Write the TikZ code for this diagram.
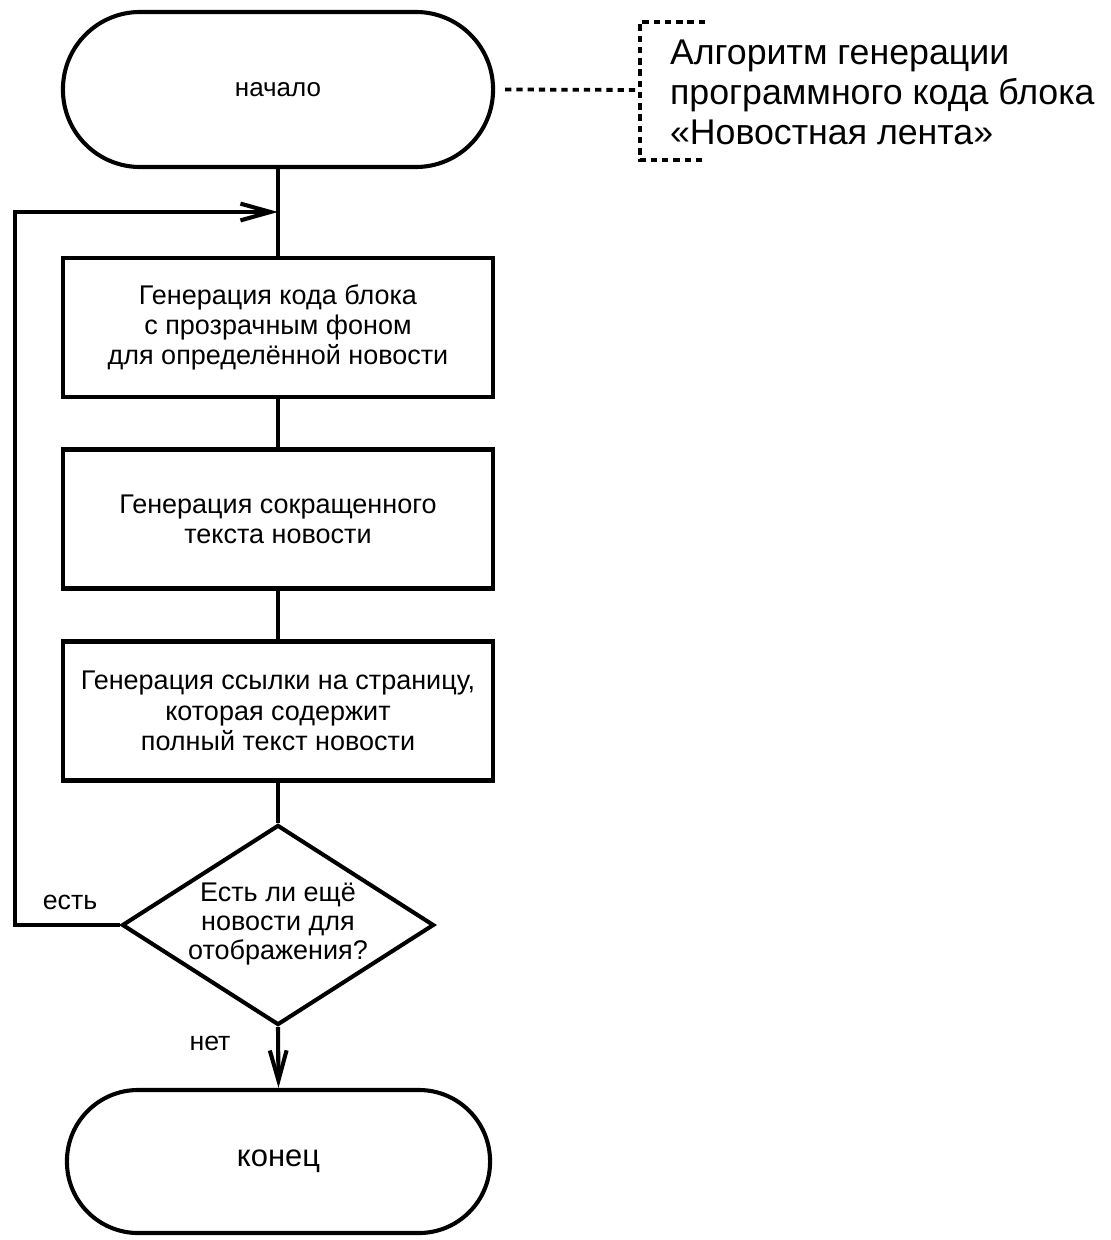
\documentclass[tikz,border=0pt]{standalone}
\usepackage{fontspec}
\setmainfont{Liberation Sans}
\usetikzlibrary{shapes.geometric,arrows.meta}

\begin{document}
\begin{tikzpicture}[x=0.025cm, y=-0.025cm, line width=2.9pt,
    blk/.style={draw, minimum width=10.75cm, minimum height=3.475cm, align=center, font=\fontsize{19.2}{21.5}\selectfont},
    term/.style={draw, rounded corners=1.78cm, align=center},
    lbl/.style={font=\fontsize{19}{22}\selectfont},
    arr/.style={-{Straight Barb[length=0.75cm,width=0.42cm,line width=2.9pt]}},
    dots/.style={dash pattern=on 4.5pt off 3.5pt}]
          \useasboundingbox (0,0) rectangle (1110,1240);
          \node[term, minimum width=10.75cm, minimum height=3.875cm, rounded corners=1.93cm] (start) at (278,89.5) {\fontsize{18.5}{22}\selectfont начало};
          \node[blk] (gen) at (278,327.5) {Генерация кода блока \\ с прозрачным фоном \\ для определённой новости};
          \node[blk] (short) at (278,519) {Генерация сокращенного \\ текста новости};
          \node[blk] (link) at (278,711) {Генерация ссылки на страницу, \\ которая содержит \\ полный текст новости};
          \node[draw, diamond, minimum width=7.8cm, minimum height=5cm, inner sep=0pt] (cond) at (278,925) {};
          \node[align=center, font=\fontsize{19.2}{20.6}\selectfont] (condtxt) at (278,924) {Есть ли ещё \\ новости для \\ отображения?};
          \node[term, minimum width=10.575cm, minimum height=3.575cm] (stop) at (278.5,1161.5) {\fontsize{22}{26}\selectfont конец};
          %
          \node[align=left, anchor=west, inner sep=0pt, font=\fontsize{25.4}{28.4}\selectfont] (title) at (668,92) {Алгоритм генерации \\ программного кода блока \\ «Новостная лента»};
          \coordinate (brk) at (640,90);
          \draw[dots, line width=2.7pt] (start.east) ++(10,0) -- (brk);
          \draw[dots, line width=2.7pt] (705,22) -- (640,22) -- (640,160) -- (705,160);
          %
          \coordinate (join) at (278,212);
          \draw (start) -- (gen);
          \draw (gen) -- (short);
          \draw (short) -- (link);
          \draw (link) -- (cond);
          \draw[arr] (cond.west) -- (15,925) -- (15,212) -- (join);
          \draw[arr] (cond.south) -- (stop.north);
          %
          \node[lbl] (yes) at (70,902) {есть};
          \node[lbl] (no) at (210,1043) {нет};
        \end{tikzpicture}
\end{document}
